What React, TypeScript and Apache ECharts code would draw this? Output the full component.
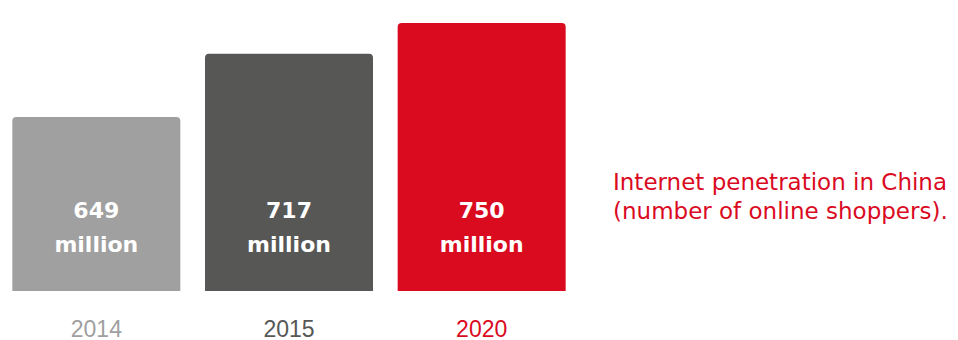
import React, { useEffect, useRef } from "react";
import * as echarts from "echarts";

const categories = ["2014", "2015", "2020"];
const shoppers = [649, 717, 750];
const barColors = ["#a0a0a0", "#575756", "#da0a1f"];
const titleLines = ["Internet penetration in China", "(number of online shoppers)."];

export default function App() {
  const ref = useRef<HTMLDivElement>(null);
  useEffect(() => {
    if (!ref.current) return;
    const chart = echarts.init(ref.current, null, { renderer: "svg" });
    const font = "'Liberation Sans', Arial, sans-serif";
    const wide = "'DejaVu Sans', sans-serif";
    chart.setOption({
      animation: false,
      grid: { left: -3, width: 581, top: 10, bottom: 47 },
      xAxis: {
        type: "category",
        data: categories,
        axisLine: { show: false },
        axisTick: { show: false },
        axisLabel: {
          margin: 26,
          fontSize: 23,
          fontFamily: font,
          color: (_v: string, i: number) => barColors[i],
        },
      },
      yAxis: {
        type: "value",
        min: 462,
        max: 764,
        show: false,
        splitLine: { show: false },
      },
      series: [
        {
          type: "bar",
          barWidth: 168,
          data: shoppers.map((v, i) => ({
            value: v,
            itemStyle: { color: barColors[i], borderRadius: [4, 4, 0, 0] },
          })),
          label: {
            show: true,
            position: "insideBottom",
            distance: 30,
            color: "#ffffff",
            fontSize: 22,
            fontWeight: "bold",
            fontFamily: wide,
            lineHeight: 34,
            formatter: (p: any) => `${p.value}\nmillion`,
          },
        },
      ],
      graphic: [
        {
          type: "text",
          left: 613,
          top: 167,
          style: {
            text: titleLines.join("\n"),
            fill: "#da0a1f",
            fontSize: 23,
            lineHeight: 29,
            fontFamily: wide,
          },
        },
      ],
    });
    return () => chart.dispose();
  }, []);
  return <div ref={ref} style={{ width: 958, height: 340, position: "absolute", left: 0, top: 0 }} />;
}
